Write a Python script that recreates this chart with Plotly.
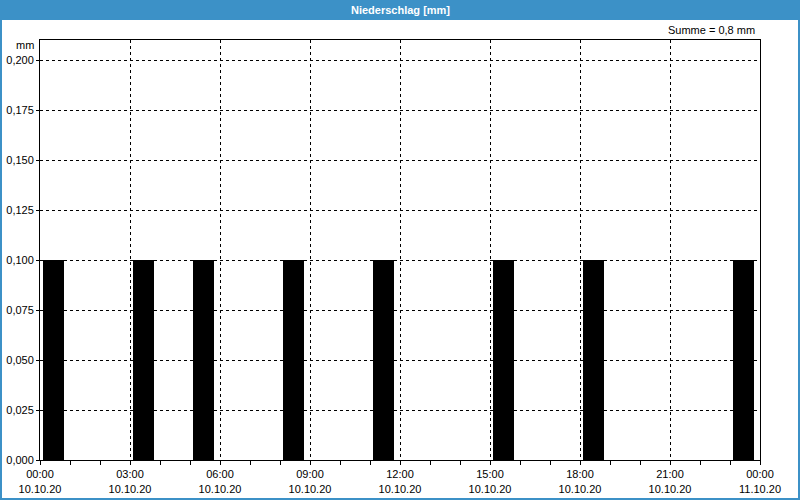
import plotly.graph_objects as go
import pandas as pd

# Hourly precipitation 10.10.20 (mm)
hours = pd.date_range("2020-10-10 00:00", periods=24, freq="h")
values = [0.1, 0, 0, 0.1, 0, 0.1, 0, 0, 0.1, 0, 0, 0.1,
          0, 0, 0, 0.1, 0, 0, 0.1, 0, 0, 0, 0, 0.1]
tick_times = pd.date_range("2020-10-10 00:00", periods=9, freq="3h")
time_labels = [f"{t:%H:%M}" for t in tick_times]
date_labels = [f"{t:%d.%m.%y}" for t in tick_times]
y_ticks = [0, 0.025, 0.05, 0.075, 0.1, 0.125, 0.15, 0.175, 0.2]
title = "Niederschlag [mm]"
summe = "Summe = 0,8 mm"

W, H = 800, 500
L, R, T, B = 40, 40, 40, 40
pw, ph = W - L - R, H - T - B
blue = "#3c91c7"
x_range = [hours[0], hours[0] + pd.Timedelta(hours=24)]

fig = go.Figure()
fig.add_trace(go.Bar(
    x=hours, y=values,
    offset=6 * 60 * 1000, width=42 * 60 * 1000,
    marker=dict(color="#000000", line=dict(width=0)),
))
fig.add_trace(go.Scatter(
    x=hours, y=values, xaxis="x2", mode="none", hoverinfo="skip", showlegend=False,
))

font = dict(family="Liberation Sans", size=11, color="#000000")

fig.update_layout(
    width=W, height=H,
    margin=dict(l=L, r=R, t=T, b=B),
    paper_bgcolor="white", plot_bgcolor="white",
    showlegend=False,
    separators=",.",
    font=font,
    bargap=0,
    xaxis=dict(
        type="date", range=x_range,
        tickvals=tick_times, ticktext=time_labels,
        showgrid=True, gridcolor="#000000", griddash="3px,3px", gridwidth=1,
        ticks="outside", ticklen=4, tickcolor="#000000",
        minor=dict(dtick=3600000, ticks="outside", ticklen=4, tickcolor="#000000", showgrid=False),
        showline=True, linecolor="#000000", linewidth=1, mirror=True,
        zeroline=False, tickfont=font, automargin=False, ticklabelstandoff=0,
    ),
    xaxis2=dict(
        type="date", range=x_range, overlaying="x", side="bottom", anchor="y",
        tickvals=tick_times, ticktext=date_labels,
        showgrid=False, ticks="", showline=False, zeroline=False,
        tickfont=font, automargin=False, ticklabelstandoff=21,
    ),
    yaxis=dict(
        range=[0, 0.21],
        tickvals=y_ticks, tickformat=".3f",
        showgrid=True, gridcolor="#000000", griddash="3px,3px", gridwidth=1,
        ticks="outside", ticklen=3, tickcolor="#000000",
        showline=True, linecolor="#000000", linewidth=1, mirror=True,
        zeroline=False, tickfont=font, automargin=False,
    ),
    shapes=[
        dict(type="rect", xref="paper", yref="paper",
             x0=-L / pw, x1=1 + R / pw, y0=1 + (T - 20) / ph, y1=1 + T / ph,
             fillcolor=blue, line=dict(width=0), layer="above"),
        dict(type="rect", xref="paper", yref="paper",
             x0=-(L - 1) / pw, x1=1 + (R - 1) / pw, y0=-(B - 1) / ph, y1=1 + T / ph,
             fillcolor="rgba(0,0,0,0)", line=dict(color=blue, width=2), layer="above"),
    ],
    annotations=[
        dict(text="<b>" + title + "</b>", xref="paper", yref="paper",
             x=0.5, y=1 + (T - 10) / ph, xanchor="center", yanchor="middle",
             showarrow=False, font=dict(family="Liberation Sans", size=11, color="white")),
        dict(text=summe, xref="paper", yref="paper",
             x=1 - 3 / pw, y=1 + 10 / ph, xanchor="right", yanchor="middle",
             showarrow=False, font=font),
        dict(text="mm", xref="paper", yref="paper",
             x=-4 / pw, y=1 - 5 / ph, xanchor="right", yanchor="middle",
             showarrow=False, font=font),
    ],
)

fig.write_html("out.html")
